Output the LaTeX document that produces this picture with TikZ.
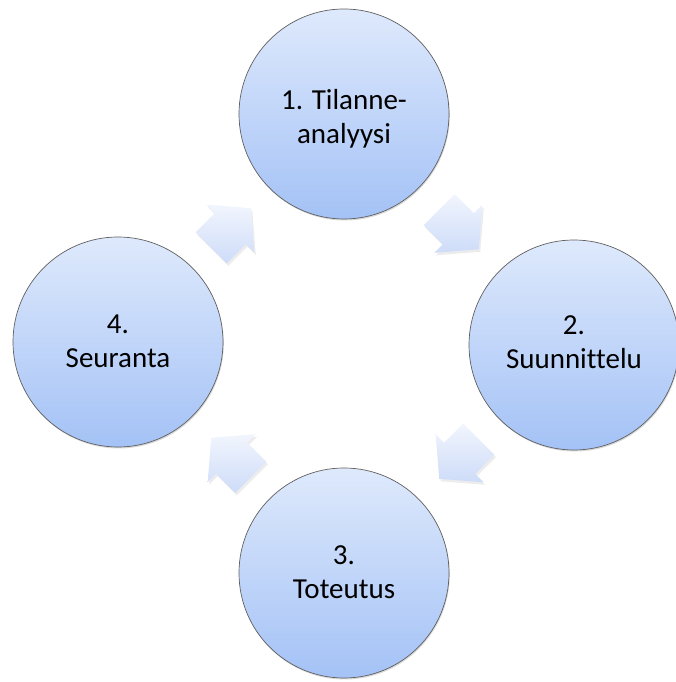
\documentclass[tikz,border=0pt]{standalone}
\usepackage{fontspec}
\setmainfont{Carlito}[Ligatures=NoCommon]
\usetikzlibrary{shadows,calc}
\definecolor{circtop}{RGB}{222,233,252}
\definecolor{circbot}{RGB}{164,194,246}
\definecolor{circline}{RGB}{95,95,95}
\definecolor{arrtop}{RGB}{241,245,253}
\definecolor{arrbot}{RGB}{206,220,249}
\tikzset{
  stage/.style={circle, minimum size=210pt, inner sep=0pt, draw=circline,
    line width=0.7pt, top color=circtop, bottom color=circbot, align=center,
    font=\fontsize{29}{34}\selectfont,
    drop shadow={opacity=0.3, shadow xshift=0.8pt, shadow yshift=-1.5pt}},
  blockarrow/.style={top color=arrtop, bottom color=arrbot, draw=none,
    drop shadow={opacity=0.15, shadow xshift=1.5pt, shadow yshift=-2.5pt}},
  pics/cyclearrow/.style={code={
    \path[blockarrow] (-28,-22) -- (-1,-22) -- (-1,-34) -- (28,0) -- (-1,34)
      -- (-1,22) -- (-28,22) -- cycle;}}
}
\newcommand\lowerby[2]{\raisebox{-#1}[\height][\depth]{\begin{tabular}{@{}c@{}}#2\end{tabular}}}
\begin{document}
\begin{tikzpicture}[x=1pt,y=1pt]
\useasboundingbox (0,0) rectangle (675,682);
\node[stage] (n1) at (344,568) {\lowerby{6pt}{1. Tilanne-\\analyysi}};
\node[stage] (n2) at (574,337) {\lowerby{0pt}{2.\\Suunnittelu}};
\node[stage] (n3) at (344,109) {\lowerby{2pt}{3.\\Toteutus}};
\node[stage] (n4) at (118,340) {\lowerby{2pt}{4.\\Seuranta}};
\pic[rotate=-45] at ($(n1)!0.5!(n2)$) {cyclearrow};
\pic[rotate=-135] at ($(n2)!0.5!(n3)$) {cyclearrow};
\pic[rotate=135] at ($(n3)!0.5!(n4)$) {cyclearrow};
\pic[rotate=45] at ($(n4)!0.5!(n1)$) {cyclearrow};
\end{tikzpicture}
\end{document}
